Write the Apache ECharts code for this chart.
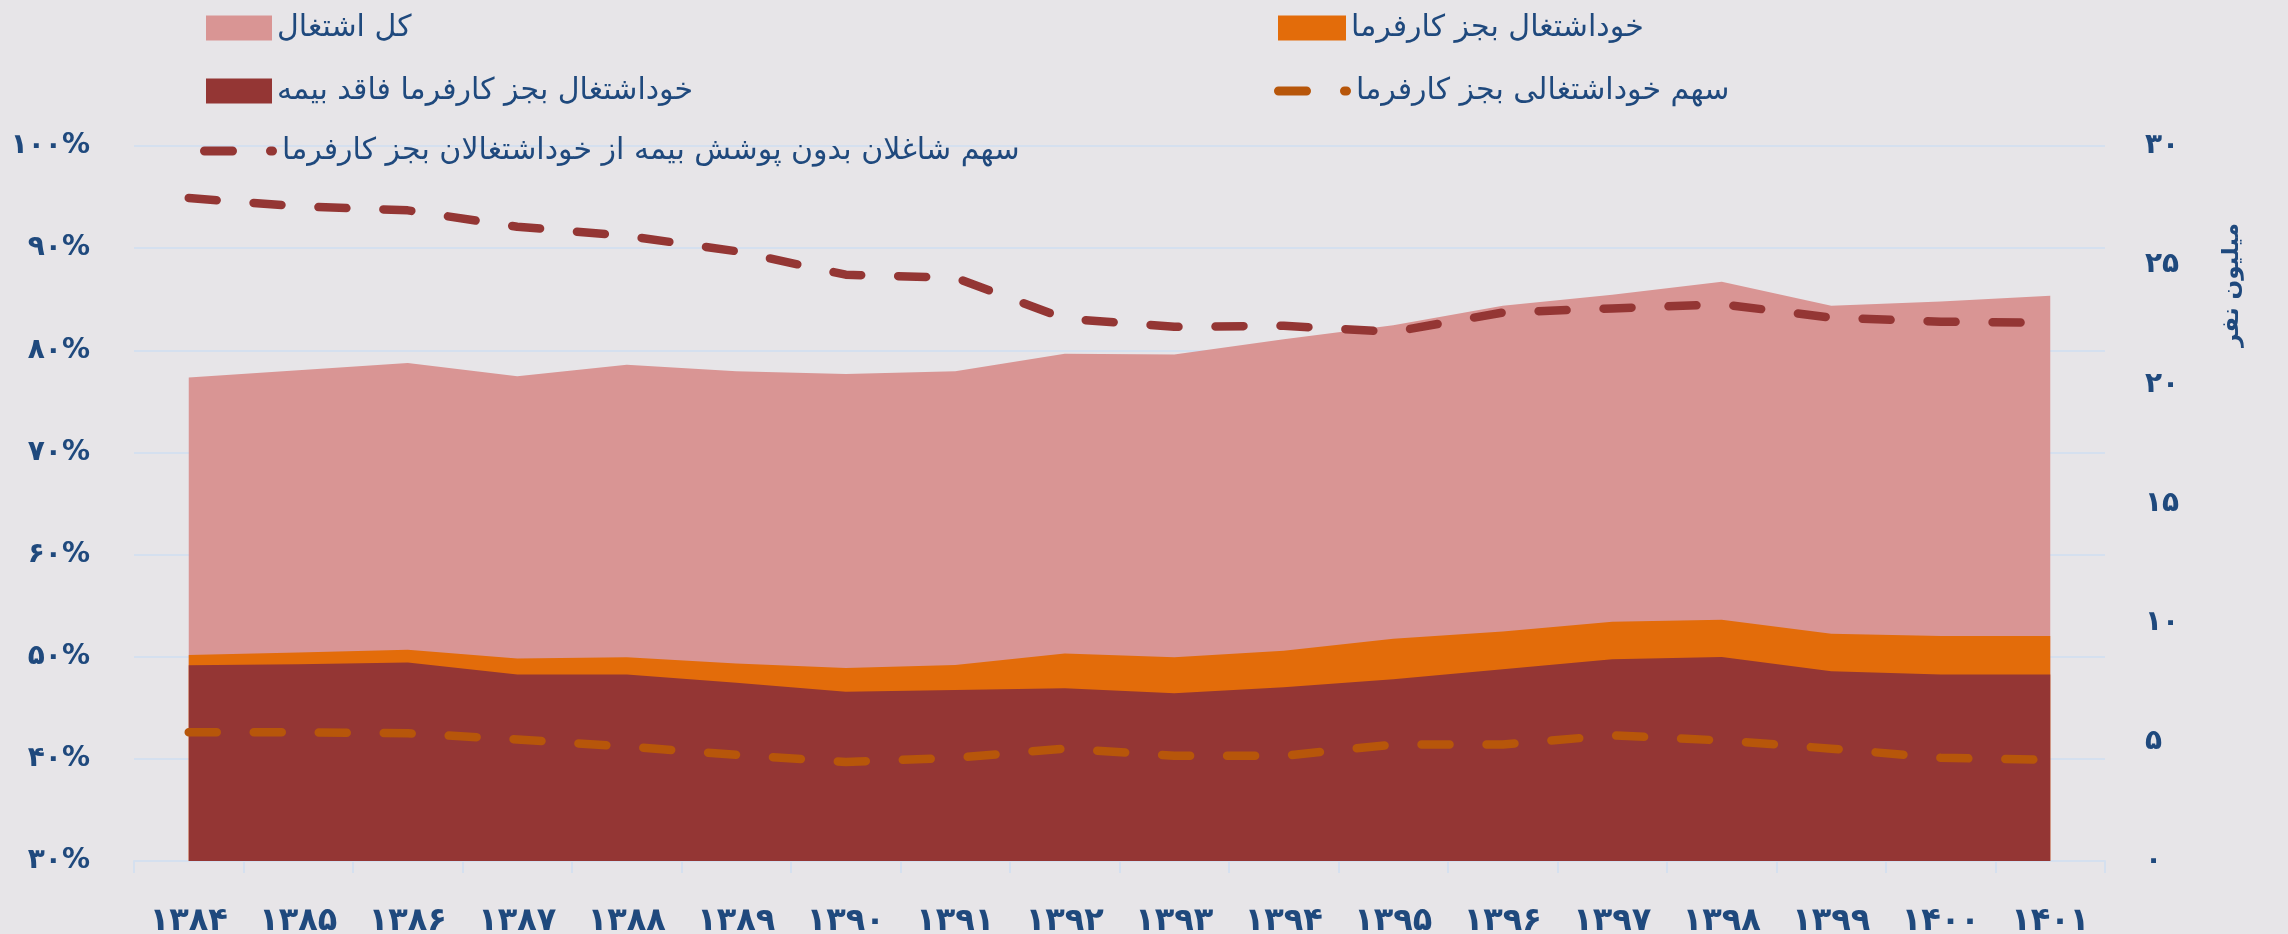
<!DOCTYPE html>
<html>
<head>
<meta charset="utf-8">
<script src="https://cdn.jsdelivr.net/npm/echarts@6/dist/echarts.min.js"></script>
<style>
  html, body { margin: 0; padding: 0; background: #E7E5E8; }
  #chart { width: 2288px; height: 934px; }
</style>
</head>
<body>
<div id="chart"></div>
<script>
// Years (Solar Hijri)
const years = ['۱۳۸۴', '۱۳۸۵', '۱۳۸۶', '۱۳۸۷', '۱۳۸۸', '۱۳۸۹', '۱۳۹۰', '۱۳۹۱', '۱۳۹۲',
               '۱۳۹۳', '۱۳۹۴', '۱۳۹۵', '۱۳۹۶', '۱۳۹۷', '۱۳۹۸', '۱۳۹۹', '۱۴۰۰', '۱۴۰۱'];

// Million persons (right axis)
const totalEmployment = [20.29, 20.59, 20.90, 20.34, 20.82, 20.55, 20.43, 20.55, 21.28,
                         21.25, 21.89, 22.48, 23.30, 23.76, 24.30, 23.30, 23.48, 23.72];
const selfEmployed = [8.64, 8.75, 8.86, 8.50, 8.55, 8.29, 8.10, 8.22, 8.71,
                      8.55, 8.82, 9.32, 9.63, 10.04, 10.12, 9.54, 9.44, 9.44];
const selfEmployedUninsured = [8.21, 8.26, 8.33, 7.83, 7.83, 7.48, 7.10, 7.17, 7.25,
                               7.04, 7.29, 7.63, 8.05, 8.46, 8.56, 7.96, 7.82, 7.82];

// Percent (left axis)
const selfEmployedShare = [42.6, 42.6, 42.5, 41.9, 41.2, 40.4, 39.7, 40.1, 41.0,
                           40.3, 40.3, 41.4, 41.4, 42.3, 41.8, 41.0, 40.1, 39.9];
const uninsuredShare = [94.9, 94.1, 93.7, 92.1, 91.2, 89.7, 87.4, 87.1, 83.1,
                        82.3, 82.4, 81.8, 83.7, 84.1, 84.5, 83.2, 82.8, 82.7];

// Axis tick labels
const percentTicks = { 30: '۳۰%', 40: '۴۰%', 50: '۵۰%', 60: '۶۰%', 70: '۷۰%', 80: '۸۰%', 90: '۹۰%', 100: '۱۰۰%' };
const millionTicks = { 0: '۰', 5: '۵', 10: '۱۰', 15: '۱۵', 20: '۲۰', 25: '۲۵', 30: '۳۰' };

const NAMES = {
  total: 'کل اشتغال',
  self: 'خوداشتغال بجز کارفرما',
  uninsured: 'خوداشتغال بجز کارفرما فاقد بیمه',
  selfShare: 'سهم خوداشتغالی بجز کارفرما',
  uninsuredShare: 'سهم شاغلان بدون پوشش بیمه از خوداشتغالان بجز کارفرما'
};

const COLORS = {
  pink: '#D99594',
  orange: '#E36C0A',
  darkRed: '#943634',
  burnt: '#B7560A',
  text: '#1F497D',
  grid: '#D5E0EF'
};

const FONT = 'DejaVu Sans';

// Legend glyph for dashed series: one rounded dash followed by a short stub
const dashIcon = 'path://M4.5,0 L32.5,0 A4.5,4.5 0 0 1 32.5,9 L4.5,9 A4.5,4.5 0 0 1 4.5,0 Z ' +
                 'M70.5,0 L72.5,0 A4.5,4.5 0 0 1 72.5,9 L70.5,9 A4.5,4.5 0 0 1 70.5,0 Z';

const legendBase = {
  orient: 'horizontal',
  padding: 0,
  itemGap: 0,
  selectedMode: false,
  textStyle: { color: COLORS.text, fontSize: 30, fontFamily: FONT, lineHeight: 40 }
};

function areaSeries(name, data, color) {
  return {
    name, type: 'line', yAxisIndex: 1, data,
    symbol: 'none', silent: true,
    lineStyle: { color, width: 0 },
    itemStyle: { color },
    areaStyle: { color, opacity: 1 }
  };
}

function dashedSeries(name, data, color) {
  return {
    name, type: 'line', yAxisIndex: 0, data,
    symbol: 'none', silent: true,
    itemStyle: { color },
    lineStyle: { color, width: 8.5, type: [28, 37], cap: 'round', join: 'round' }
  };
}

const chart = echarts.init(document.getElementById('chart'), null, { renderer: 'canvas' });

chart.setOption({
  backgroundColor: '#E7E5E8',
  animation: false,
  grid: { left: 134, right: 183, top: 146, bottom: 73, containLabel: false, outerBoundsMode: 'none' },
  legend: [
    Object.assign({}, legendBase, { left: 206, top: 8, itemWidth: 66, itemHeight: 25, icon: 'rect',
      itemStyle: { color: COLORS.pink, borderWidth: 0 }, data: [NAMES.total] }),
    Object.assign({}, legendBase, { left: 1278, top: 8, itemWidth: 68, itemHeight: 25, icon: 'rect',
      itemStyle: { color: COLORS.orange, borderWidth: 0 }, data: [NAMES.self] }),
    Object.assign({}, legendBase, { left: 206, top: 71, itemWidth: 66, itemHeight: 25, icon: 'rect',
      itemStyle: { color: COLORS.darkRed, borderWidth: 0 }, data: [NAMES.uninsured] }),
    Object.assign({}, legendBase, { left: 1274, top: 71, itemWidth: 77, itemHeight: 9, icon: dashIcon,
      itemStyle: { color: COLORS.burnt, borderWidth: 0 }, data: [NAMES.selfShare] }),
    Object.assign({}, legendBase, { left: 200, top: 131, itemWidth: 77, itemHeight: 9, icon: dashIcon,
      itemStyle: { color: COLORS.darkRed, borderWidth: 0 }, data: [NAMES.uninsuredShare] })
  ],
  xAxis: {
    type: 'category',
    data: years,
    boundaryGap: true,
    axisLine: { show: true, lineStyle: { color: COLORS.grid, width: 2 } },
    axisTick: { show: true, interval: 0, length: 12, lineStyle: { color: COLORS.grid, width: 2 } },
    axisLabel: { interval: 0, color: COLORS.text, fontSize: 32, fontWeight: 'bold', fontFamily: FONT, margin: 45 },
    splitLine: { show: false }
  },
  yAxis: [
    {
      type: 'value', position: 'left', min: 30, max: 100, interval: 10,
      axisLine: { show: false }, axisTick: { show: false },
      axisLabel: {
        color: COLORS.text, fontSize: 28, fontWeight: 'bold', fontFamily: FONT, margin: 44,
        padding: [0, 0, 10, 0],
        formatter: v => percentTicks[v] || ''
      },
      splitLine: { show: true, lineStyle: { color: COLORS.grid, width: 2 } }
    },
    {
      type: 'value', position: 'right', min: 0, max: 30, interval: 5,
      axisLine: { show: false }, axisTick: { show: false },
      axisLabel: {
        color: COLORS.text, fontSize: 28, fontWeight: 'bold', fontFamily: FONT, margin: 40,
        padding: [0, 0, 12, 0],
        formatter: v => millionTicks[v] || ''
      },
      splitLine: { show: false }
    }
  ],
  graphic: [
    {
      type: 'text',
      x: 2232, y: 285,
      rotation: Math.PI / 2,
      silent: true,
      style: {
        text: 'میلیون نفر',
        fill: COLORS.text,
        font: 'bold 23px "' + FONT + '"',
        align: 'center',
        verticalAlign: 'middle'
      }
    }
  ],
  series: [
    areaSeries(NAMES.total, totalEmployment, COLORS.pink),
    areaSeries(NAMES.self, selfEmployed, COLORS.orange),
    areaSeries(NAMES.uninsured, selfEmployedUninsured, COLORS.darkRed),
    dashedSeries(NAMES.selfShare, selfEmployedShare, COLORS.burnt),
    dashedSeries(NAMES.uninsuredShare, uninsuredShare, COLORS.darkRed)
  ]
});
</script>
</body>
</html>
